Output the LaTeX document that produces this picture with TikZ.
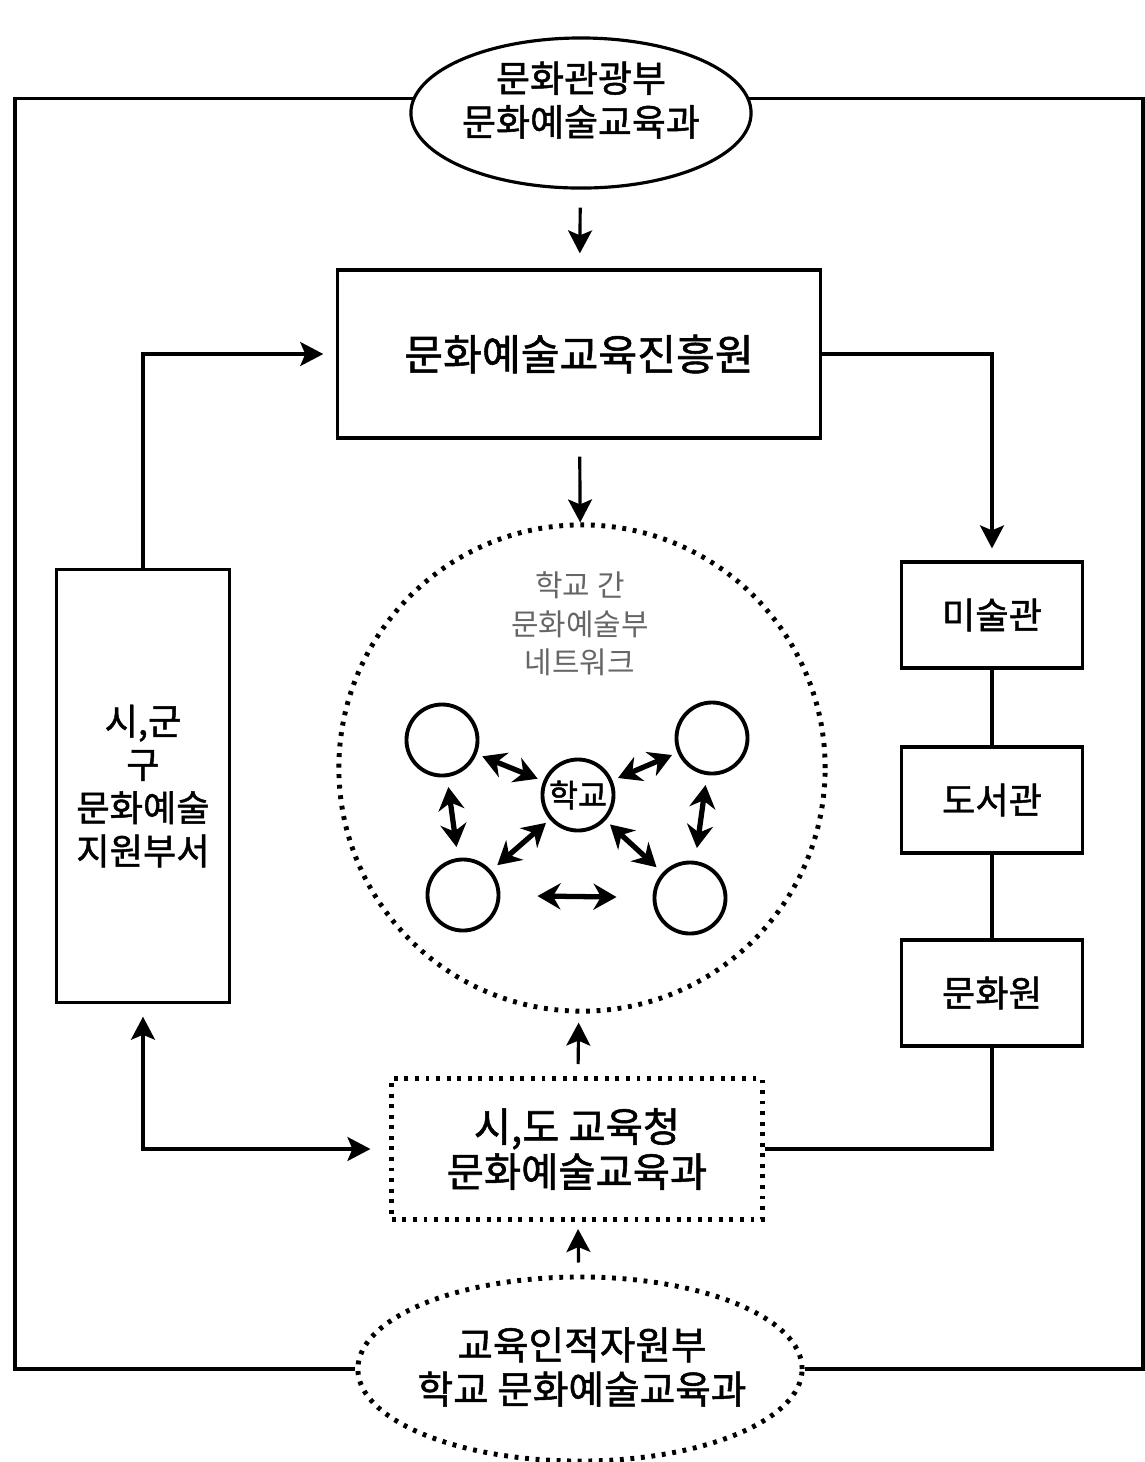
\documentclass[tikz,border=0pt]{standalone}
\usepackage{fontspec}
\setmainfont{Noto Sans CJK KR}[BoldFont={Noto Sans CJK KR}, BoldFeatures={FakeBold=1.3}]
\usetikzlibrary{arrows.meta,shapes.geometric,positioning}

\tikzset{
  box/.style={draw, line width=0.9pt, rectangle, align=center, inner sep=0pt},
  dotline/.style={line width=1.4pt, dash pattern=on 1.1pt off 1.9pt},
  link/.style={line width=0.9pt},
  arr/.style={line width=0.9pt, -{Stealth[length=2.3mm,width=2.4mm,inset=0.5mm]}},
  netarr/.style={line width=1.5pt, {Stealth[length=2.3mm,width=2.6mm]}-{Stealth[length=2.3mm,width=2.6mm]}},
  school/.style={circle, draw, line width=1.1pt, minimum size=0.71cm, inner sep=0pt}
}

\begin{document}
\begin{tikzpicture}[x=0.01cm,y=-0.01cm,font=\bfseries]
  \useasboundingbox (0,0) rectangle (1145,1462);
  \fill[white] (0,0) rectangle (1145,1462);

  % ministries
  \node[ellipse, draw, line width=0.9pt, minimum width=3.4cm, minimum height=1.5cm] (mcst) at (581,113) {};
  \node[align=center, font=\bfseries\fontsize{10.5}{12.4}\selectfont] (mcsttext) at (581,100) {문화관광부\\문화예술교육과};
  \node[ellipse, draw, dotline, minimum width=4.44cm, minimum height=1.84cm] (moe) at (580,1369) {};
  \node[align=center, font=\bfseries\fontsize{11}{12.6}\selectfont] (moetext) at (582,1367) {교육인적자원부\\학교 문화예술교육과};

  \node[box, minimum width=4.82cm, minimum height=1.68cm,
    font=\bfseries\fontsize{12}{13}\selectfont] (arte) at (579,354) {문화예술교육진흥원};
  \node[box, minimum width=1.73cm, minimum height=4.32cm,
    font=\bfseries\fontsize{10.3}{12.3}\selectfont] (local) at (143,786) {시,군\\구\\문화예술\\지원부서};
  \node[box, dotline, minimum width=3.70cm, minimum height=1.41cm,
    font=\bfseries\fontsize{11.5}{12.8}\selectfont] (office) at (577,1149) {시,도 교육청\\문화예술교육과};

  \node[box, minimum width=1.81cm, minimum height=1.06cm, font=\bfseries\fontsize{10.3}{12}\selectfont] (museum) at (992,615) {미술관};
  \node[box, minimum width=1.81cm, minimum height=1.06cm, font=\bfseries\fontsize{10.3}{12}\selectfont] (library) at (992,800) {도서관};
  \node[box, minimum width=1.81cm, minimum height=1.06cm, font=\bfseries\fontsize{10.3}{12}\selectfont] (culture) at (992,993) {문화원};

  % network of schools
  \node[circle, draw, dotline, minimum size=4.86cm] (net) at (582,768) {};
  \node[align=center, text=black!60, font=\fontsize{8.5}{11}\selectfont] (netlabel) at (580,624) {학교 간\\문화예술부\\네트워크};
  \node[school, font=\bfseries\fontsize{9}{10}\selectfont] (sch) at (578,795) {학교};
  \node[school] (s1) at (442,740) {};
  \node[school] (s2) at (712,738) {};
  \node[school] (s3) at (463,895) {};
  \node[school] (s4) at (690,898) {};

  \draw[netarr, shorten <=0.6mm, shorten >=0.6mm] (s1) -- (sch);
  \draw[netarr, shorten <=0.6mm, shorten >=0.6mm] (s2) -- (sch);
  \draw[netarr, shorten <=0.5mm, shorten >=0.8mm] (sch) -- (s3);
  \draw[netarr, shorten <=0.6mm, shorten >=0.8mm] (sch) -- (s4);
  \draw[netarr, shorten <=1mm, shorten >=1.1mm] (s1) -- (s3);
  \draw[netarr, shorten <=1mm, shorten >=1.3mm] (s2) -- (s4);
  \draw[netarr, shorten <=3.7mm, shorten >=3.6mm] (s3) -- (s4);

  % outer frame
  \coordinate (fl) at (15,0);
  \coordinate (fr) at (1143,0);
  \draw[link] (mcst.175) -| (fl |- moe.west) -- (moe.west);
  \draw[link] (mcst.5) -| (fr |- moe.east) -- (moe.east);

  % connectors
  \draw[arr, shorten <=1.8mm, shorten >=1.5mm] (mcst) -- (arte);
  \draw[arr, shorten <=1.7mm] (arte) -- (net);
  \draw[arr, shorten <=1.2mm, shorten >=0.9mm] (office) -- (net);
  \draw[arr, shorten <=1.2mm, shorten >=0.7mm] (moe) -- (office);
  \draw[arr, shorten >=1.3mm] (local.north) |- (arte.west);
  \draw[arr, shorten >=1.2mm] (arte.east) -| (museum.north);
  \draw[link] (museum) -- (library);
  \draw[link] (library) -- (culture);
  \draw[link] (office.east) -| (culture.south);
  \draw[link, {Stealth[length=2.3mm,width=2.4mm,inset=0.5mm]}-{Stealth[length=2.3mm,width=2.4mm,inset=0.5mm]},
    shorten <=1.3mm, shorten >=1.9mm] (local.south) |- (office.west);
\end{tikzpicture}
\end{document}
